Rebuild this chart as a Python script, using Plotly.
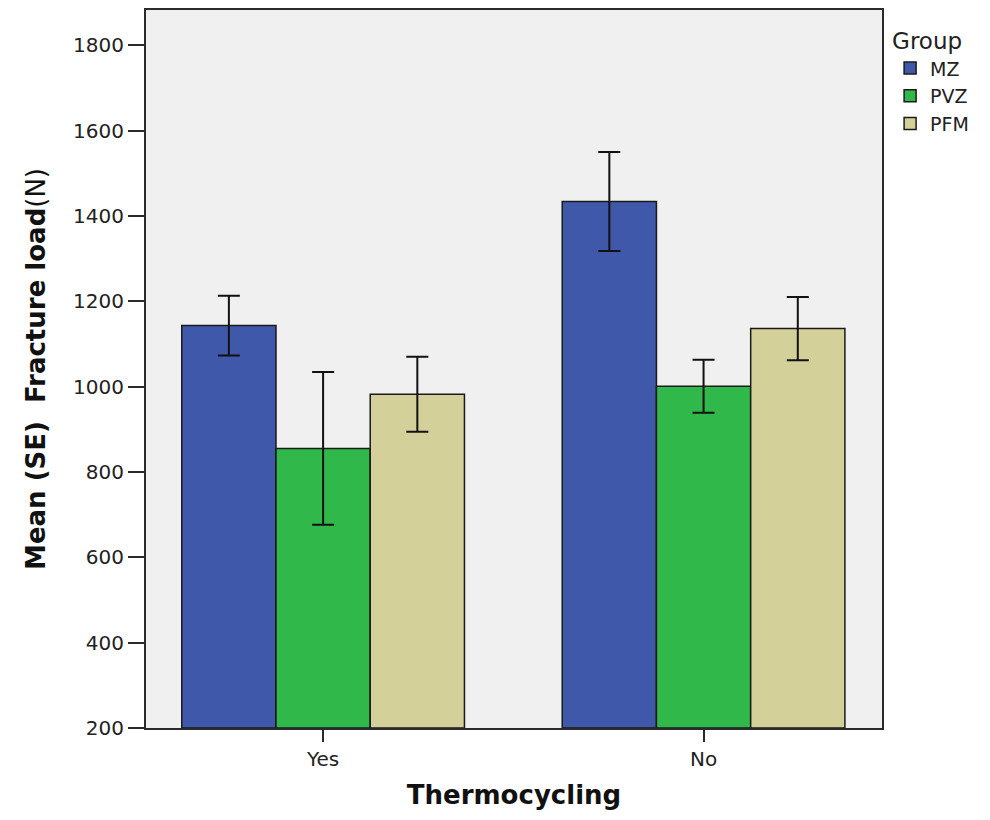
import plotly.graph_objects as go

categories = ["Yes", "No"]
groups = ["MZ", "PVZ", "PFM"]
means = {
    "MZ": [1143, 1434],
    "PVZ": [855, 1001],
    "PFM": [982, 1136],
}
se = {
    "MZ": [70, 116],
    "PVZ": [179, 62],
    "PFM": [88, 74],
}
colors = {"MZ": "#3F58AA", "PVZ": "#31B84A", "PFM": "#D4D09A"}
y_ticks = [200, 400, 600, 800, 1000, 1200, 1400, 1600, 1800]

FONT = "DejaVu Sans"

fig = go.Figure()
for g in groups:
    fig.add_trace(go.Bar(
        name=g,
        x=categories,
        y=[m - 200 for m in means[g]],
        base=200,
        marker=dict(color=colors[g], line=dict(color="#1a1a1a", width=1.5)),
        error_y=dict(type="data", array=se[g], color="#111111", thickness=2, width=11),
        hoverinfo="skip",
    ))

fig.update_layout(
    width=974, height=804,
    margin=dict(l=138, r=100, t=0, b=84),
    paper_bgcolor="white",
    plot_bgcolor="#F0F0F0",
    barmode="group",
    bargap=0.257,
    bargroupgap=0,
    font=dict(family=FONT, color="#222222"),
    legend=dict(
        title=dict(text="Group", font=dict(family=FONT, size=23, color="#222222")),
        font=dict(family=FONT, size=19, color="#222222"),
        x=1.011, xanchor="left", xref="paper",
        y=0.987, yanchor="top",
        bgcolor="rgba(0,0,0,0)",
        tracegroupgap=0,
        itemwidth=30,
    ),
    showlegend=True,
)

fig.update_xaxes(
    range=[-0.4655, 1.469],
    showline=True, linecolor="#2a2a2a", linewidth=2, mirror=True,
    ticks="outside", ticklen=12, tickwidth=2, tickcolor="#2a2a2a",
    tickfont=dict(family=FONT, size=20, color="#222222"),
    showgrid=False, zeroline=False,
    title=dict(text="<b>Thermocycling</b>", font=dict(family=FONT, size=26, color="#111111"), standoff=16),
)
fig.update_yaxes(
    range=[200, 1882.5],
    tickvals=y_ticks,
    showline=True, linecolor="#2a2a2a", linewidth=2, mirror=True,
    ticks="outside", ticklen=16, tickwidth=2, tickcolor="#2a2a2a",
    tickfont=dict(family=FONT, size=20, color="#222222"),
    showgrid=False, zeroline=False,
    title=dict(text="<b>Mean (SE)\u00a0\u00a0Fracture load</b>(N)",
               font=dict(family=FONT, size=26, color="#111111"), standoff=20),
)

fig.write_html("out.html")
